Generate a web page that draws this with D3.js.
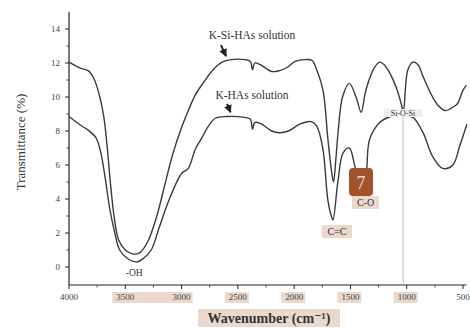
<!DOCTYPE html>
<html>
<head>
<meta charset="utf-8">
<script src="https://cdn.jsdelivr.net/npm/d3@7"></script>
<style>
  body { margin: 0; background: #fff; }
  #chart { width: 470px; height: 328px; }
  text { font-family: "Liberation Serif", "DejaVu Serif", serif; }
</style>
</head>
<body>
<div id="chart"></div>
<script>
// K-Si-HAs solution (top curve): wavenumber, transmittance
const wnSi = [4000, 3900, 3830, 3780, 3730, 3690, 3660, 3630, 3600, 3560, 3500, 3430, 3370, 3300, 3220, 3150, 3080, 3000, 2940, 2880, 2800, 2720, 2640, 2560, 2440, 2390, 2370, 2350, 2300, 2200, 2130, 2060, 1990, 1900, 1840, 1800, 1744, 1700, 1665, 1650, 1630, 1610, 1570, 1510, 1450, 1405, 1370, 1340, 1290, 1240, 1200, 1150, 1090, 1045, 1030, 990, 945, 900, 855, 770, 720, 660, 590, 550, 500, 470];
const tSi = [12.05, 11.7, 11.55, 11.1, 10.1, 8.8, 7.0, 4.8, 3.0, 1.6, 1.0, 0.76, 0.85, 1.5, 3.0, 4.8, 6.6, 8.2, 9.2, 10.1, 10.9, 11.6, 12.05, 12.2, 12.2, 12.1, 11.6, 12.0, 11.9, 11.5, 11.55, 11.75, 12.1, 12.2, 12.15, 11.6, 10.4, 7.5, 5.5, 5.0, 6.3, 7.9, 10.0, 10.8, 10.0, 9.1, 10.2, 10.9, 11.7, 12.05, 11.9, 11.4, 10.5, 9.5, 9.1, 11.6, 12.05, 11.9, 11.2, 10.0, 9.5, 9.2, 9.4, 9.6, 10.4, 10.7];

// K-HAs solution (bottom curve)
const wnK = [4000, 3900, 3830, 3760, 3720, 3680, 3640, 3600, 3550, 3480, 3400, 3340, 3270, 3200, 3120, 3000, 2940, 2880, 2820, 2760, 2700, 2600, 2440, 2390, 2370, 2350, 2300, 2200, 2130, 2050, 1950, 1850, 1800, 1744, 1700, 1665, 1655, 1610, 1566, 1510, 1460, 1420, 1390, 1360, 1330, 1240, 1120, 1030, 945, 855, 770, 680, 590, 530, 480, 465];
const tK = [8.85, 8.35, 8.05, 7.6, 6.8, 5.3, 3.5, 2.2, 1.0, 0.5, 0.3, 0.5, 1.0, 2.3, 3.8, 5.5, 5.8, 6.9, 7.6, 8.3, 8.75, 8.85, 8.8, 8.7, 8.1, 8.5, 8.45, 8.0, 7.9, 8.0, 8.4, 8.55, 8.3, 6.9, 3.9, 2.9, 2.76, 5.1, 6.7, 7.0, 5.9, 5.0, 4.8, 5.5, 7.5, 8.5, 8.9, 8.9, 8.8, 7.9, 6.5, 5.8, 6.0, 7.1, 8.1, 8.4];

const xTicks = [4000, 3500, 3000, 2500, 2000, 1500, 1000, 500];
const xMinor = [3750, 3250, 2750, 2250, 1750, 1250, 750];
const yTicks = [0, 2, 4, 6, 8, 10, 12, 14];
const yMinor = [1, 3, 5, 7, 9, 11, 13];
const highlightedX = [[3500, 3000], [2500], [2000], [1500], [1000]];

const width = 470, height = 328;
const svg = d3.select("#chart").append("svg")
  .attr("width", width).attr("height", height);

const x = d3.scaleLinear().domain([4000, 470]).range([69, 466.4]);
const y = d3.scaleLinear().domain([-18 / 17, 15]).range([285, 12]);

// highlight boxes behind tick labels
highlightedX.forEach(g => {
  const x0 = x(g[0]) - 13, x1 = x(g[g.length - 1]) + 11;
  svg.append("rect")
    .attr("x", x0).attr("y", 292)
    .attr("width", x1 - x0).attr("height", 11)
    .attr("fill", "#ead9cc");
});

// x axis
const gx = svg.append("g").attr("transform", `translate(0,${y.range()[0]})`);
gx.append("line").attr("x1", x(4000)).attr("x2", x(470))
  .attr("stroke", "#222").attr("stroke-width", 1.2);
gx.selectAll(".maj").data(xTicks).join("line")
  .attr("x1", d => x(d)).attr("x2", d => x(d)).attr("y1", 0).attr("y2", 4)
  .attr("stroke", "#222");
gx.selectAll(".min").data(xMinor).join("line")
  .attr("x1", d => x(d)).attr("x2", d => x(d)).attr("y1", 0).attr("y2", 2.5)
  .attr("stroke", "#444");
gx.selectAll("text").data(xTicks).join("text")
  .attr("x", d => x(d)).attr("y", 15)
  .attr("text-anchor", "middle").attr("font-size", 9).attr("fill", "#444")
  .text(d => d);

// y axis
const gy = svg.append("g").attr("transform", `translate(${x(4000)},0)`);
gy.append("line").attr("y1", y.range()[1]).attr("y2", y.range()[0])
  .attr("stroke", "#222").attr("stroke-width", 1.2);
gy.selectAll(".maj").data(yTicks).join("line")
  .attr("x1", -4).attr("x2", 0).attr("y1", d => y(d)).attr("y2", d => y(d))
  .attr("stroke", "#222");
gy.selectAll(".min").data(yMinor).join("line")
  .attr("x1", -2.5).attr("x2", 0).attr("y1", d => y(d)).attr("y2", d => y(d))
  .attr("stroke", "#444");
gy.selectAll("text").data(yTicks).join("text")
  .attr("x", -9).attr("y", d => y(d) + 3)
  .attr("text-anchor", "end").attr("font-size", 9).attr("fill", "#444")
  .text(d => d);

// axis titles
svg.append("rect").attr("x", 198).attr("y", 309).attr("width", 142).attr("height", 18)
  .attr("fill", "#ead9cc");
svg.append("text")
  .attr("x", 269).attr("y", 323).attr("text-anchor", "middle")
  .attr("font-size", 14).attr("font-weight", "bold").attr("fill", "#333")
  .text("Wavenumber (cm⁻¹)");
svg.append("text")
  .attr("transform", "translate(25,142) rotate(-90)")
  .attr("text-anchor", "middle").attr("font-size", 13).attr("fill", "#333")
  .text("Transmittance (%)");

// Si-O-Si reference line
svg.append("line")
  .attr("x1", x(1033)).attr("x2", x(1033)).attr("y1", y(8.9)).attr("y2", y.range()[0])
  .attr("stroke", "#aaa").attr("stroke-width", 0.8);

// curves
const line = d3.line()
  .x(d => x(d[0])).y(d => y(d[1]))
  .curve(d3.curveCatmullRom.alpha(0.5));

svg.append("path").datum(d3.zip(wnSi, tSi))
  .attr("fill", "none").attr("stroke", "#3a3a3a").attr("stroke-width", 1.4)
  .attr("d", line);
svg.append("path").datum(d3.zip(wnK, tK))
  .attr("fill", "none").attr("stroke", "#3a3a3a").attr("stroke-width", 1.4)
  .attr("d", line);

// arrows pointing down from the labels to the curves
svg.append("defs").append("marker")
  .attr("id", "arr").attr("viewBox", "0 0 10 10").attr("refX", 9).attr("refY", 5)
  .attr("markerWidth", 4).attr("markerHeight", 4).attr("orient", "auto")
  .append("path").attr("d", "M0,0L10,5L0,10z").attr("fill", "#222");

const arrows = [[2650, 13.05, 2605, 12.4], [2596, 9.6, 2565, 9.1]];
arrows.forEach(a => {
  svg.append("line")
    .attr("x1", x(a[0])).attr("y1", y(a[1])).attr("x2", x(a[2])).attr("y2", y(a[3]))
    .attr("stroke", "#222").attr("stroke-width", 2).attr("marker-end", "url(#arr)");
});

// labels
svg.append("text").attr("x", 252).attr("y", 39).attr("text-anchor", "middle")
  .attr("font-size", 11.5).attr("fill", "#333").text("K-Si-HAs solution");
svg.append("text").attr("x", 252).attr("y", 99).attr("text-anchor", "middle")
  .attr("font-size", 11.5).attr("fill", "#333").text("K-HAs solution");

svg.append("text").attr("x", x(3420)).attr("y", 276).attr("text-anchor", "middle")
  .attr("font-size", 9.5).attr("fill", "#333").text("-OH");

svg.append("rect").attr("x", 384).attr("y", 109).attr("width", 38).attr("height", 8)
  .attr("fill", "#eeeeee");
svg.append("text").attr("x", 403).attr("y", 116).attr("text-anchor", "middle")
  .attr("font-size", 8).attr("fill", "#333").text("Si-O-Si");

svg.append("rect").attr("x", 322).attr("y", 225).attr("width", 30).attr("height", 13)
  .attr("fill", "#ead9cc");
svg.append("text").attr("x", 337).attr("y", 235).attr("text-anchor", "middle")
  .attr("font-size", 10).attr("fill", "#333").text("C=C");

svg.append("rect").attr("x", 352).attr("y", 196).attr("width", 27).attr("height", 13)
  .attr("fill", "#ead9cc");
svg.append("text").attr("x", 365.5).attr("y", 206).attr("text-anchor", "middle")
  .attr("font-size", 10).attr("fill", "#333").text("C-O");

svg.append("rect").attr("x", 349).attr("y", 168).attr("width", 24).attr("height", 28)
  .attr("rx", 4).attr("fill", "#a3532b");
svg.append("text").attr("x", 361).attr("y", 189).attr("text-anchor", "middle")
  .attr("font-size", 18).attr("fill", "#f3dccb").text("7");
</script>
</body>
</html>
